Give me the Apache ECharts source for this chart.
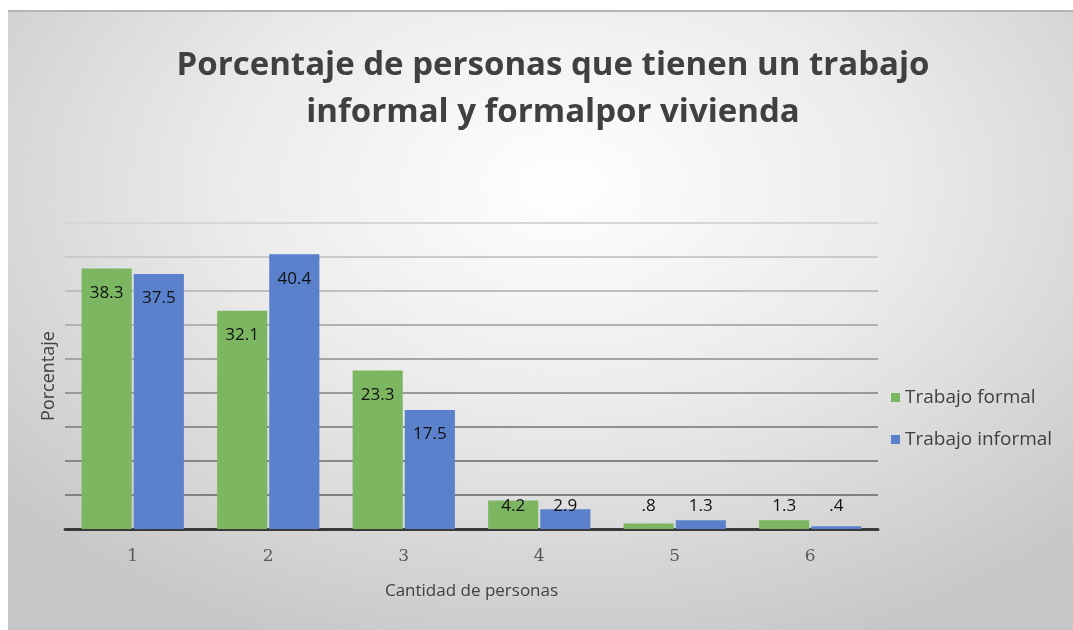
<!DOCTYPE html>
<html>
<head>
<meta charset="utf-8">
<script src="https://cdn.jsdelivr.net/npm/echarts@6/dist/echarts.min.js"></script>
<style>
  html, body { margin: 0; padding: 0; background: #fff; }
  .fondo {
    position: absolute; left: 8px; top: 10px; width: 1065px; height: 620px;
    border-top: 2px solid #b4b4b4;
    background: radial-gradient(ellipse 70% 80% at 52% 28%, #ffffff 0%, #ebebeb 45%, #c6c6c6 100%);
  }
  #main { position: absolute; left: 0; top: 0; width: 1073px; height: 630px; }
</style>
</head>
<body>
<div class="fondo"></div>
<div id="main"></div>
<script>
// cantidad de personas por vivienda
var categorias = ['1', '2', '3', '4', '5', '6'];
var trabajoFormal = [38.3, 32.1, 23.3, 4.2, 0.8, 1.3];
var trabajoInformal = [37.5, 40.4, 17.5, 2.9, 1.3, 0.4];

// colores de las lineas de la cuadricula, de abajo hacia arriba
var coloresLineas = ['#7a7a7a', '#808080', '#878787', '#8f8f8f', '#999999', '#a5a5a5', '#b1b1b1', '#bebebe', '#cacaca', '#d6d6d6'];

// etiquetas: dentro arriba para barras altas, a la misma altura para las bajas
function conEtiquetas(valores) {
  return valores.map(function (v) {
    if (v < 5) {
      return { value: v, label: { position: 'insideBottom', distance: 14 } };
    }
    return v;
  });
}

var myChart = echarts.init(document.getElementById('main'));
myChart.setOption({
  animation: false,
  title: {
    text: 'Porcentaje de personas que tienen un trabajo\ninformal y formalpor vivienda',
    left: 548,
    top: 37,
    textAlign: 'center',
    textStyle: {
      color: '#404040',
      fontFamily: 'Open Sans',
      fontWeight: 'bold',
      fontSize: 33,
      lineHeight: 47
    }
  },
  legend: {
    orient: 'vertical',
    left: 886,
    top: 383,
    itemWidth: 9,
    itemHeight: 9,
    itemGap: 23,
    icon: 'rect',
    textStyle: { color: '#404040', fontSize: 19, fontFamily: 'Open Sans' },
    data: ['Trabajo formal', 'Trabajo informal']
  },
  grid: { left: 65, right: 195, top: 223, bottom: 101 },
  xAxis: {
    type: 'category',
    data: categorias,
    name: 'Cantidad de personas',
    nameLocation: 'middle',
    nameGap: 54,
    nameTextStyle: { color: '#404040', fontSize: 17, fontFamily: 'Open Sans' },
    axisLine: { lineStyle: { color: '#3a3a3a', width: 3 } },
    axisTick: { show: false },
    axisLabel: { color: '#595959', fontSize: 17, fontFamily: 'DejaVu Serif', margin: 19 }
  },
  yAxis: {
    type: 'value',
    min: 0,
    max: 45,
    interval: 5,
    name: 'Porcentaje',
    nameLocation: 'middle',
    nameGap: 7,
    nameTextStyle: { color: '#404040', fontSize: 18, fontFamily: 'Open Sans' },
    axisLine: { show: false },
    axisTick: { show: false },
    axisLabel: { show: false },
    splitLine: { lineStyle: { color: coloresLineas, width: 2 } }
  },
  series: [
    {
      name: 'Trabajo formal',
      type: 'bar',
      barWidth: '37%',
      barGap: '4%',
      itemStyle: { color: '#7cb660' },
      label: {
        show: true,
        position: 'insideTop',
        distance: 16,
        color: '#111',
        fontSize: 17,
        fontWeight: 500,
        fontFamily: 'Open Sans',
        formatter: function (p) { return String(p.value).replace(/^0\./, '.'); }
      },
      data: conEtiquetas(trabajoFormal)
    },
    {
      name: 'Trabajo informal',
      type: 'bar',
      barWidth: '37%',
      barGap: '4%',
      itemStyle: { color: '#5b80cc' },
      label: {
        show: true,
        position: 'insideTop',
        distance: 16,
        color: '#111',
        fontSize: 17,
        fontWeight: 500,
        fontFamily: 'Open Sans',
        formatter: function (p) { return String(p.value).replace(/^0\./, '.'); }
      },
      data: conEtiquetas(trabajoInformal)
    }
  ]
});
</script>
</body>
</html>
